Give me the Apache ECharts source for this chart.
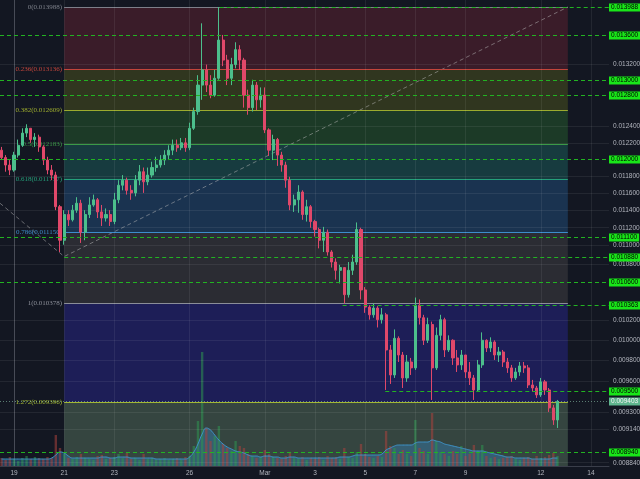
<!DOCTYPE html>
<html><head><meta charset="utf-8">
<script src="https://cdn.jsdelivr.net/npm/echarts@6/dist/echarts.min.js"></script>
<style>html,body{margin:0;padding:0;background:#131722;}#c{width:640px;height:479px;}</style>
</head><body><div id="c"></div>
<script>
// time: days since Feb 19 00:00, 4-hour candles starting Feb 18 12:00
const startDay = -0.5;
const stepDay = 1 / 6;

const opens = [0.01211,0.01202,0.01193,0.01187,0.01205,0.01217,0.01232,0.01238,0.01224,0.01227,
0.01215,0.01199,0.01187,0.01181,0.01144,0.01106,0.01135,0.01129,0.01140,0.01148,
0.01115,0.01135,0.01146,0.01152,0.01138,0.01131,0.01135,0.01127,0.01152,0.01169,
0.01175,0.01163,0.01160,0.01175,0.01185,0.01173,0.01181,0.01190,0.01193,0.01199,
0.01205,0.01211,0.01217,0.01214,0.01220,0.01214,0.01238,0.01259,0.01293,0.01313,
0.01293,0.01280,0.01302,0.01353,0.01326,0.01302,0.01320,0.01340,0.01326,0.01280,
0.01264,0.01293,0.01274,0.01280,0.01236,0.01211,0.01224,0.01205,0.01193,0.01175,
0.01146,0.01152,0.01161,0.01135,0.01144,0.01127,0.01118,0.01106,0.01115,0.01093,
0.01082,0.01073,0.01076,0.01047,0.01073,0.01082,0.01118,0.01052,0.01034,0.01026,
0.01033,0.01021,0.01026,0.009903,0.009657,0.01002,0.009853,0.009628,0.009784,0.009726,
0.01036,0.01023,0.01000,0.01016,0.009726,0.01005,0.01021,0.009903,0.01000,0.009824,
0.009755,0.009853,0.009686,0.009628,0.009512,0.009755,0.01000,0.009923,0.009983,0.009853,
0.009883,0.009784,0.009726,0.009628,0.009686,0.009745,0.009726,0.009560,0.009531,0.009465,
0.009590,0.009512,0.009342,0.009229];

const closes = [0.01202,0.01193,0.01187,0.01205,0.01217,0.01232,0.01238,0.01224,0.01227,0.01215,
0.01199,0.01187,0.01181,0.01144,0.01106,0.01135,0.01129,0.01140,0.01148,0.01115,
0.01135,0.01146,0.01152,0.01138,0.01131,0.01135,0.01127,0.01152,0.01169,0.01175,
0.01163,0.01160,0.01175,0.01185,0.01173,0.01181,0.01190,0.01193,0.01199,0.01205,
0.01211,0.01217,0.01214,0.01220,0.01214,0.01238,0.01259,0.01293,0.01313,0.01293,
0.01280,0.01302,0.01353,0.01326,0.01302,0.01320,0.01340,0.01326,0.01280,0.01264,
0.01293,0.01274,0.01280,0.01236,0.01211,0.01224,0.01205,0.01193,0.01175,0.01146,
0.01152,0.01161,0.01135,0.01144,0.01127,0.01118,0.01106,0.01115,0.01093,0.01082,
0.01073,0.01076,0.01047,0.01073,0.01082,0.01118,0.01052,0.01034,0.01026,0.01033,
0.01021,0.01026,0.009903,0.009657,0.01002,0.009853,0.009628,0.009784,0.009726,0.01036,
0.01023,0.01000,0.01016,0.009726,0.01005,0.01021,0.009903,0.01000,0.009824,0.009755,
0.009853,0.009686,0.009628,0.009512,0.009755,0.01000,0.009923,0.009983,0.009853,0.009883,
0.009784,0.009726,0.009628,0.009686,0.009745,0.009726,0.009560,0.009531,0.009465,0.009590,
0.009512,0.009342,0.009229,0.009403];

const highs = [0.01215,0.01205,0.01199,0.01209,0.01224,0.01238,0.01243,0.01238,0.01232,0.01230,
0.01217,0.01203,0.01193,0.01185,0.01146,0.01140,0.01140,0.01146,0.01155,0.01152,
0.01140,0.01155,0.01158,0.01154,0.01146,0.01142,0.01140,0.01160,0.01175,0.01181,
0.01178,0.01169,0.01181,0.01193,0.01190,0.01190,0.01197,0.01203,0.01205,0.01211,
0.01217,0.01224,0.01224,0.01226,0.01226,0.01245,0.01264,0.01306,0.01376,0.01320,
0.01306,0.01313,0.013988,0.01360,0.01333,0.01329,0.01350,0.01346,0.01329,0.01287,
0.01300,0.01297,0.01290,0.01290,0.01238,0.01230,0.01226,0.01209,0.01197,0.01179,
0.01158,0.01169,0.01163,0.01152,0.01146,0.01129,0.01120,0.01121,0.01118,0.01095,
0.01086,0.01079,0.01076,0.01082,0.01090,0.01126,0.01120,0.01055,0.01036,0.01038,
0.01035,0.01033,0.01028,0.009953,0.01011,0.01004,0.009883,0.009853,0.009824,0.01044,
0.01042,0.01026,0.01023,0.01019,0.01013,0.01026,0.01023,0.01005,0.01001,0.009903,
0.009903,0.009853,0.009784,0.009657,0.009804,0.01008,0.01001,0.01003,0.01000,0.009933,
0.009903,0.009824,0.009755,0.009726,0.009784,0.009784,0.009755,0.009609,0.009551,0.009628,
0.009609,0.009531,0.009370,0.009417];

const lows = [0.01199,0.01185,0.01181,0.01185,0.01202,0.01215,0.01227,0.01220,0.01215,0.01209,
0.01193,0.01182,0.01175,0.01140,0.01093,0.01101,0.01122,0.01127,0.01137,0.01103,
0.01106,0.01131,0.01144,0.01131,0.01122,0.01127,0.01122,0.01124,0.01148,0.01163,
0.01158,0.01152,0.01156,0.01169,0.01160,0.01169,0.01178,0.01185,0.01190,0.01193,
0.01199,0.01205,0.01209,0.01211,0.01209,0.01211,0.01236,0.01255,0.01274,0.01284,
0.01276,0.01278,0.01300,0.01318,0.01293,0.01293,0.01315,0.01313,0.01264,0.01255,
0.01259,0.01261,0.01264,0.01232,0.01204,0.01199,0.01192,0.01185,0.01166,0.01140,
0.01138,0.01137,0.01129,0.01127,0.01120,0.01110,0.01097,0.01093,0.01089,0.01076,
0.01063,0.01059,0.010378,0.01044,0.01068,0.01079,0.01042,0.01028,0.01021,0.01023,
0.01013,0.01017,0.009512,0.009570,0.009628,0.009784,0.009531,0.009590,0.009657,0.009706,
0.01016,0.009953,0.009973,0.009417,0.009706,0.01000,0.009833,0.009883,0.009755,0.009686,
0.009706,0.009628,0.009560,0.009417,0.009493,0.009726,0.009883,0.009883,0.009804,0.009784,
0.009735,0.009677,0.009590,0.009609,0.009648,0.009677,0.009531,0.009493,0.009436,0.009446,
0.009465,0.009304,0.009183,0.009155];

const volumes = [8,6,9,7,5,8,10,7,9,8,7,9,8,
31,18,12,8,
7,9,12,8,7,6,10,11,7,8,9,12,8,13,7,8,6,12,7,8,6,7,8,6,7,8,6,9,
10,20,45,114,38,25,30,40,22,18,15,25,20,18,12,10,8,9,
16,12,9,8,7,10,14,8,7,9,6,8,7,9,6,10,8,9,7,18,9,8,14,22,12,9,8,10,9,
35,20,18,12,16,12,10,46,18,15,12,53,25,14,12,10,15,12,20,10,12,21,15,21,
10,8,9,7,8,9,10,7,6,8,9,7,10,8,9,11,13,10];

const volumeMA = [7,7,7,7,7,7,7,7,7,7,7,7,8,
11,14,13,10,
8,8,8,8,8,8,8,9,9,8,8,9,9,9,8,8,8,8,8,8,7,7,7,7,7,7,7,7,
9,14,22,32,38,36,31,26,22,19,17,15,14,13,11,10,10,9,
10,10,9,9,8,8,9,9,8,8,8,8,8,8,8,8,8,8,9,9,9,10,11,11,11,11,11,11,12,
16,18,20,21,21,21,21,23,24,24,24,26,25,24,22,21,20,19,18,17,16,15,15,15,
14,13,12,11,10,9,9,8,8,8,8,7,7,7,7,7,8,8];

// x axis ticks (days since Feb 19)
const xTickDays = [0, 2, 4, 7, 10, 12, 14, 16, 18, 21, 23];
const xTickLabels = ['19', '21', '23', '26', 'Mar', '3', '5', '7', '9', '12', '14'];

// right price scale labels
const priceTicks = [0.0132, 0.0124, 0.0122, 0.0118, 0.0116, 0.0114, 0.0112, 0.011, 0.0108, 0.0102, 0.01, 0.0098, 0.0096, 0.0093, 0.00914, 0.00884];

// fibonacci retracement
const fibRatios = ['0', '0.236', '0.382', '0.5', '0.618', '0.786', '1', '1.272'];
const fibPrices = [0.013988, 0.013136, 0.012609, 0.012183, 0.011757, 0.011150, 0.010378, 0.009396];
const fibLineColors = ['#7d808a', '#c2453b', '#9cab2e', '#3b9a47', '#25a07a', '#3d8ccc', '#8b8e98', '#a3b834'];
const fibZoneColors = ['#3a1c29', '#30361f', '#1c3a27', '#173b3f', '#1a3350', '#2b2c33', '#1d1e57', '#354540'];
const fibStartDay = 2;
const fibEndDay = 22.08;

// alert lines (green)
const alertPrices = [0.013988, 0.0136, 0.013, 0.0128, 0.012, 0.0111, 0.01088, 0.0106, 0.010363, 0.0095, 0.00894];
const alertStartDays = [8.2, null, null, null, null, null, 2, null, 13.1, 14.8, null];
const lastPrice = 0.009403;

// trend line (dashed)
const trendDays = [-0.56, 2, 22.08];
const trendPrices = [0.01148, 0.01088, 0.013988];

const xMin = -0.559, xMax = 23.72;
const yMin = 0.008811, yMax = 0.014087;

const times = opens.map((_, i) => startDay + i * stepDay);
const candleData = opens.map((o, i) => [times[i], o, closes[i], lows[i], highs[i]]);
const upC = '#4cbf8c', downC = '#e0486a';
const volData = volumes.map((v, i) => ({
  value: [times[i], v],
  itemStyle: { color: closes[i] >= opens[i] ? 'rgba(46,150,80,0.55)' : 'rgba(170,65,60,0.55)' }
}));
const maData = volumeMA.map((v, i) => [times[i], v]);

// horizontal line helper: two-point markLine across the full width
const hLine = (p, extra, x0) => [Object.assign({ coord: [x0 == null ? xMin : x0, p] }, extra || {}), { coord: [xMax, p] }];

const zoneData = fibPrices.map((p, i) => {
  const bottom = i + 1 < fibPrices.length ? fibPrices[i + 1] : yMin;
  return [{ coord: [fibStartDay, p], itemStyle: { color: fibZoneColors[i], opacity: 1 } }, { coord: [fibEndDay, bottom] }];
});
const fibLineData = fibPrices.map((p, i) => [
  { coord: [fibStartDay, p], lineStyle: { color: fibLineColors[i], width: 1, type: 'solid' },
    label: { show: true, position: 'start', distance: 2, formatter: fibRatios[i] + '(' + p.toFixed(6) + ')',
      color: fibLineColors[i], fontSize: 7, fontFamily: 'Liberation Serif' } },
  { coord: [fibEndDay, p] }
]);

const gridLineData = priceTicks.map(p => hLine(p)).concat(xTickDays.map(d => ({ xAxis: d })));
const tickLabelData = priceTicks.map(p => hLine(p, {
  lineStyle: { color: 'rgba(0,0,0,0)', width: 0 },
  label: { show: true, position: 'end', distance: 4, formatter: p.toFixed(6), color: '#b2b5be', opacity: 1,
    fontSize: 6.5, fontFamily: 'Liberation Sans' }
}));

// crisp horizontal price lines with a boxed label on the price scale
function priceLineRenderer(stroke, dash, boxColor, textColor) {
  return function (params, api) {
    const x0 = api.value(0), p = api.value(1);
    const a = api.coord([x0, p]);
    const b = api.coord([xMax, p]);
    const y = Math.round(a[1]) + 0.5;
    return {
      type: 'group',
      children: [
        { type: 'line', shape: { x1: a[0], y1: y, x2: b[0], y2: y },
          style: { stroke: stroke, lineWidth: 1, lineDash: dash } },
        { type: 'text', x: b[0], y: y,
          style: { text: p.toFixed(6), fill: textColor, backgroundColor: boxColor, padding: [1, 2, 0, 2],
            fontSize: 6.5, fontFamily: 'Liberation Sans', verticalAlign: 'middle', align: 'left' } }
      ]
    };
  };
}
const alertSeriesData = alertPrices.map((p, i) => [alertStartDays[i] == null ? xMin : alertStartDays[i], p]);

const chart = echarts.init(document.getElementById('c'), null, { renderer: 'canvas' });
chart.setOption({
  animation: false,
  backgroundColor: '#131722',
  grid: [
    { left: 0, right: 31, top: 0, bottom: 13, outerBoundsMode: 'none' },
    { left: 0, right: 31, top: 340, bottom: 13, outerBoundsMode: 'none' }
  ],
  xAxis: [
    { type: 'value', gridIndex: 0, min: xMin, max: xMax,
      axisLine: { show: true, lineStyle: { color: '#3a3e4a' } },
      axisTick: { show: false }, splitLine: { show: false },
      axisLabel: { show: true, customValues: xTickDays, color: '#b2b5be', fontSize: 6.5, margin: 4,
        fontFamily: 'Liberation Sans',
        formatter: v => { const k = xTickDays.indexOf(Math.round(v)); return k >= 0 ? xTickLabels[k] : ''; } } },
    { type: 'value', gridIndex: 1, min: xMin, max: xMax, show: false }
  ],
  yAxis: [
    { type: 'log', logBase: 10, gridIndex: 0, min: yMin, max: yMax, position: 'right',
      axisLine: { show: true, lineStyle: { color: '#3a3e4a' } },
      axisLabel: { show: false }, axisTick: { show: false }, splitLine: { show: false } },
    { type: 'value', gridIndex: 1, min: 0, max: 126, show: false }
  ],
  series: [
    { type: 'line', data: [], z: 1, silent: true,
      markArea: { silent: true, data: zoneData },
      markLine: { silent: true, symbol: ['none', 'none'], data: fibLineData } },
    { type: 'line', data: [], z: 2, silent: true,
      markLine: { silent: true, symbol: ['none', 'none'], label: { show: false },
        lineStyle: { color: 'rgba(255,255,255,0.07)', type: 'solid', width: 1 }, data: gridLineData } },
    { type: 'line', data: [], z: 2, silent: true,
      markLine: { silent: true, symbol: ['none', 'none'], data: tickLabelData } },
    { type: 'line', data: trendDays.map((d, i) => [d, trendPrices[i]]), z: 3, silent: true, symbol: 'none',
      lineStyle: { color: 'rgba(190,190,190,0.5)', type: [4, 3], width: 1 } },
    { type: 'bar', xAxisIndex: 1, yAxisIndex: 1, data: volData, barWidth: 2.4, z: 3, silent: true },
    { type: 'line', xAxisIndex: 1, yAxisIndex: 1, data: maData, smooth: true, symbol: 'none', z: 3, silent: true,
      lineStyle: { color: '#3f93c8', width: 1 }, areaStyle: { color: 'rgba(55,135,195,0.55)' } },
    { type: 'candlestick', data: candleData, z: 5, barWidth: 2.6,
      itemStyle: { color: upC, color0: downC, borderColor: upC, borderColor0: downC, borderWidth: 1 } },
    { type: 'custom', data: [[xMin, lastPrice]], z: 6, silent: true, clip: false,
      renderItem: priceLineRenderer('rgba(150,210,180,0.55)', [1, 2], '#5fb58e', '#f2f2f2') },
    { type: 'custom', data: alertSeriesData, z: 7, silent: true, clip: false,
      renderItem: priceLineRenderer('#22b322', [4, 3], '#19e619', '#000000') }
  ]
});
</script>
</body></html>
